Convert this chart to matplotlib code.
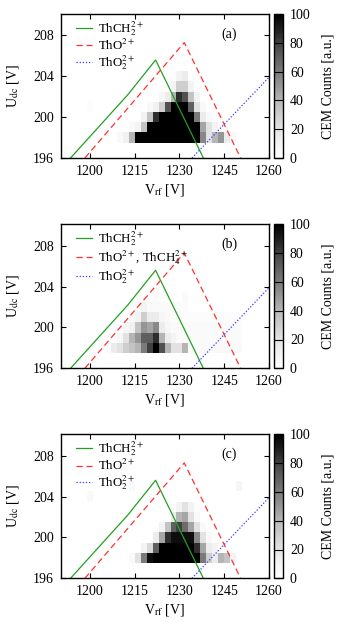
import numpy as np
import matplotlib
matplotlib.use("Agg")
import matplotlib.pyplot as plt

plt.rcParams["font.family"] = "serif"
plt.rcParams["font.serif"] = ["Liberation Serif", "DejaVu Serif"]
plt.rcParams["mathtext.fontset"] = "stix"
plt.rcParams["font.size"] = 10

# heatmap grid (bin centres)
v_rf = np.arange(1198, 1251, 2)     # 27 columns
u_dc = np.arange(205, 197, -1)      # rows from top (205) to bottom (198)

counts_a = [
    [0, 0, 0, 0, 0, 0, 0, 0, 0, 0, 0, 0, 0, 0, 0, 0, 0, 0, 0, 0, 0, 0, 0, 0, 0, 0, 0],
    [0, 0, 0, 0, 0, 0, 0, 0, 0, 0, 0, 0, 0, 0, 0, 0, 10, 15, 0, 0, 0, 0, 0, 0, 0, 0, 0],
    [0, 0, 0, 0, 0, 0, 0, 0, 0, 0, 0, 0, 0, 0, 0, 10, 30, 30, 10, 0, 0, 0, 0, 0, 0, 0, 0],
    [0, 0, 0, 0, 0, 0, 0, 0, 0, 0, 0, 0, 0, 8, 15, 40, 85, 75, 35, 10, 0, 0, 0, 0, 0, 0, 0],
    [0, 3, 0, 0, 0, 0, 0, 0, 0, 0, 0, 5, 12, 30, 75, 100, 100, 100, 70, 20, 5, 0, 0, 0, 0, 0, 0],
    [0, 0, 0, 0, 0, 0, 0, 0, 0, 0, 10, 35, 85, 100, 100, 100, 100, 100, 100, 60, 15, 5, 0, 0, 0, 0, 0],
    [0, 0, 0, 0, 0, 0, 0, 0, 5, 10, 35, 100, 100, 100, 100, 100, 100, 100, 100, 100, 45, 20, 10, 5, 0, 0, 0],
    [0, 0, 0, 0, 0, 0, 5, 12, 40, 100, 100, 100, 100, 100, 100, 100, 100, 100, 100, 100, 55, 20, 40, 50, 15, 5, 0],
]

counts_b = [
    [0, 0, 0, 0, 0, 0, 0, 0, 0, 0, 0, 0, 0, 0, 0, 0, 0, 0, 0, 0, 0, 0, 0, 0, 0, 0, 0],
    [0, 0, 0, 0, 0, 0, 0, 0, 0, 0, 0, 0, 0, 0, 0, 0, 0, 0, 0, 0, 0, 0, 0, 0, 0, 0, 0],
    [0, 0, 0, 0, 0, 0, 0, 0, 0, 0, 0, 0, 4, 0, 0, 0, 0, 4, 0, 0, 0, 0, 0, 0, 0, 0, 0],
    [0, 0, 0, 0, 0, 0, 0, 0, 0, 5, 10, 5, 5, 4, 4, 4, 3, 3, 0, 0, 0, 0, 0, 0, 0, 0, 0],
    [0, 0, 0, 0, 0, 0, 0, 0, 5, 10, 30, 15, 15, 8, 5, 3, 3, 3, 3, 3, 3, 3, 3, 3, 3, 3, 3],
    [0, 0, 0, 0, 0, 0, 0, 8, 12, 35, 50, 45, 55, 15, 8, 4, 4, 4, 4, 4, 4, 4, 4, 4, 4, 4, 4],
    [0, 0, 0, 0, 0, 0, 8, 20, 40, 50, 70, 70, 85, 40, 15, 10, 4, 4, 4, 4, 4, 4, 4, 4, 4, 4, 4],
    [0, 0, 0, 0, 0, 15, 20, 30, 35, 40, 60, 80, 100, 75, 40, 20, 20, 40, 5, 5, 5, 5, 5, 5, 5, 5, 5],
]

counts_c = [
    [0, 0, 0, 0, 0, 0, 0, 0, 5, 0, 0, 0, 0, 0, 0, 0, 0, 0, 0, 0, 0, 0, 0, 0, 0, 0, 8],
    [0, 5, 0, 0, 0, 0, 0, 0, 0, 0, 0, 0, 0, 0, 0, 0, 0, 0, 0, 0, 0, 0, 0, 0, 0, 0, 0],
    [0, 0, 0, 0, 0, 0, 0, 0, 0, 0, 0, 0, 0, 0, 0, 0, 10, 20, 10, 0, 0, 0, 0, 0, 0, 0, 0],
    [0, 0, 0, 0, 0, 0, 0, 0, 0, 0, 0, 0, 0, 0, 0, 15, 40, 45, 20, 5, 0, 0, 0, 0, 0, 0, 0],
    [0, 0, 0, 0, 0, 0, 0, 0, 0, 0, 0, 0, 0, 10, 35, 70, 80, 65, 45, 20, 5, 0, 0, 0, 0, 0, 0],
    [0, 0, 0, 0, 0, 0, 0, 0, 0, 0, 0, 0, 15, 45, 85, 95, 95, 95, 95, 55, 20, 5, 0, 0, 0, 0, 0],
    [0, 0, 0, 0, 0, 0, 0, 0, 0, 0, 10, 25, 70, 100, 100, 100, 100, 100, 100, 85, 45, 15, 10, 0, 0, 0, 0],
    [0, 0, 0, 0, 0, 0, 0, 0, 5, 20, 60, 95, 100, 100, 100, 100, 100, 100, 100, 100, 60, 30, 15, 40, 35, 10, 0],
]

# stability-diagram tips
thch2_v = [1193.5, 1212.7, 1222.0, 1238.0]
thch2_u = [196.0, 202.2, 205.6, 196.0]
tho_v = [1198.3, 1231.6, 1250.5]
tho_u = [196.0, 207.3, 196.0]
tho2_v = [1234.2, 1260.0]
tho2_u = [196.0, 203.9]

panel_tags = ["(a)", "(b)", "(c)"]
tho_labels = [r"ThO$^{2+}$", r"ThO$^{2+}$, ThCH$_4^{2+}$", r"ThO$^{2+}$"]
panel_counts = [counts_a, counts_b, counts_c]

x_edges = np.append(v_rf - 1, v_rf[-1] + 1)
y_edges = np.append(u_dc + 0.5, u_dc[-1] - 0.5)

fig = plt.figure(figsize=(3.41, 6.31), dpi=100)
W, H = 341.0, 631.0
bottoms = [158.0, 368.3, 578.3]

for tag, counts, tho_lab, bot in zip(panel_tags, panel_counts, tho_labels, bottoms):
    ax = fig.add_axes([61 / W, 1 - bot / H, 208 / W, 144 / H])
    cax = fig.add_axes([274 / W, 1 - bot / H, 9 / W, 144 / H])

    mesh = ax.pcolormesh(x_edges, y_edges, np.array(counts), cmap="Greys",
                         vmin=0, vmax=100, shading="flat")

    ax.plot(thch2_v, thch2_u, color="#22a022", lw=0.9, label=r"ThCH$_2^{2+}$")
    ax.plot(tho_v, tho_u, color="#ff3030", lw=0.9, ls=(0, (5, 3)), label=tho_lab)
    ax.plot(tho2_v, tho2_u, color="#3a3aff", lw=0.9, ls=(0, (1, 1.5)), label=r"ThO$_2^{2+}$")

    ax.set_xlim(1190.3, 1260)
    ax.set_ylim(196, 210.1)
    ax.set_xticks(np.arange(1200, 1261, 15))
    ax.set_yticks(np.arange(196, 209, 4))
    ax.tick_params(direction="in", length=3.5, width=0.8, top=True, right=True, pad=5)
    for sp in ax.spines.values():
        sp.set_linewidth(1.0)
    ax.set_xlabel(r"V$_{\rm rf}$ [V]", labelpad=3)
    ax.set_ylabel(r"U$_{\rm dc}$ [V]", labelpad=9)

    ax.legend(loc="upper left", frameon=False, handlelength=1.2, handletextpad=0.5,
              labelspacing=0.0, borderaxespad=0.3, fontsize=9.3,
              bbox_to_anchor=(0.03, 1.03))
    ax.text(0.81, 0.86, tag, transform=ax.transAxes, ha="center", va="center")

    cb = fig.colorbar(mesh, cax=cax, ticks=np.arange(0, 101, 20))
    cb.outline.set_linewidth(1.0)
    cax.tick_params(direction="in", length=6.5, width=0.8, pad=5)
    cb.set_label("CEM Counts [a.u.]", labelpad=8)

fig.savefig("out.png", dpi=100)
